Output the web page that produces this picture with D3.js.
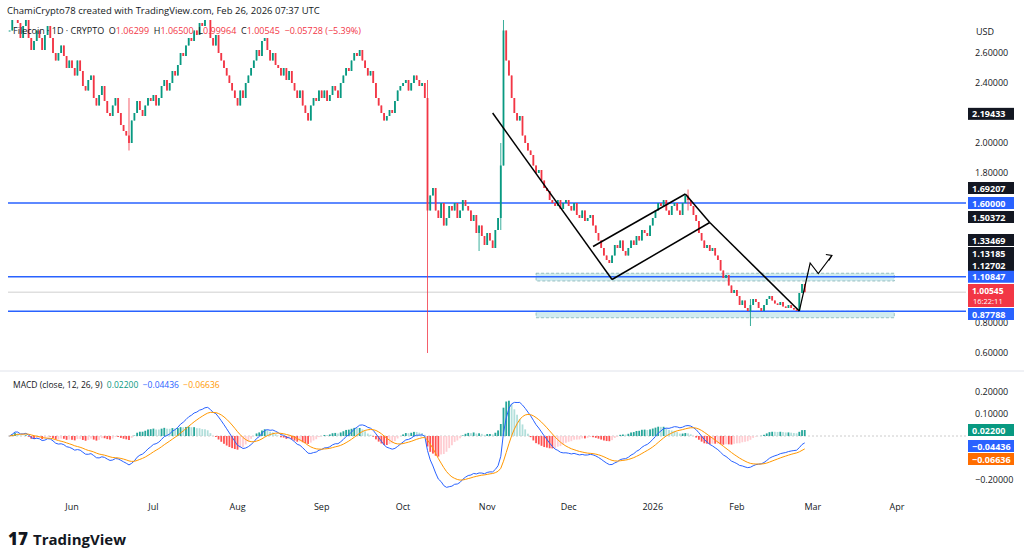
<!DOCTYPE html>
<html><head><meta charset="utf-8">
<script src="https://cdn.jsdelivr.net/npm/d3@7"></script>
<style>body{margin:0;background:#fff;font-family:"Open Sans",Roboto,sans-serif}</style>
</head><body><svg id="c" width="1024" height="560"></svg>
<script>
const startDate = "2025-05-09";
const closes = [
2.75,2.85,2.9,2.8,2.7,2.78,2.82,2.7,2.62,2.68,2.75,2.7,2.62,2.72,2.78,2.7,2.6,2.55,2.6,2.65,2.58,2.5,2.55,
2.5,2.45,2.55,2.48,2.38,2.35,2.42,2.45,2.3,2.25,2.32,2.38,2.28,2.2,2.18,2.25,2.3,2.2,2.12,2.08,2.05,2.0,2.15,2.2,2.28,2.22,2.18,2.25,2.3,2.28,
2.32,2.25,2.3,2.38,2.42,2.35,2.4,2.48,2.45,2.52,2.6,2.58,2.65,2.7,2.68,2.75,2.72,2.8,2.78,2.85,2.82,2.7,2.65,2.72,2.6,2.55,2.5,2.45,2.4,2.35,2.3,
2.25,2.35,2.3,2.4,2.45,2.5,2.55,2.62,2.58,2.68,2.7,2.62,2.55,2.6,2.52,2.5,2.45,2.5,2.42,2.48,2.4,2.35,2.3,2.35,2.25,2.2,2.15,2.25,2.3,2.28,2.35,
2.3,2.35,2.28,2.32,2.38,2.35,2.3,2.4,2.45,2.5,2.48,2.55,2.6,2.58,2.62,2.55,2.5,2.45,2.48,2.4,2.3,2.25,2.2,2.15,2.18,2.22,2.2,2.28,2.35,2.38,
2.4,2.42,2.35,2.4,2.45,2.42,2.38,2.4,2.3,1.55,1.65,1.7,1.55,1.5,1.6,1.45,1.5,1.58,1.55,1.6,1.5,1.55,1.62,1.58,1.55,1.48,1.52,1.4,1.45,1.38,1.32,
1.4,1.35,1.3,1.42,1.5,1.85,2.75,2.55,2.45,2.3,2.2,2.15,2.18,2.05,2.0,1.95,1.92,1.85,1.8,1.82,1.75,1.7,1.68,1.62,1.6,1.58,1.62,1.56,1.6,1.62,
1.58,1.55,1.6,1.52,1.5,1.55,1.48,1.5,1.52,1.45,1.4,1.35,1.3,1.25,1.22,1.2,1.25,1.32,1.3,1.35,1.28,1.25,1.3,1.35,1.32,1.38,1.35,1.42,1.4,1.38,1.45,
1.5,1.55,1.6,1.58,1.62,1.55,1.52,1.58,1.6,1.55,1.52,1.6,1.65,1.62,1.58,1.52,1.48,1.4,1.35,1.3,1.32,1.28,1.3,1.25,1.22,1.15,1.1,1.12,1.05,1.0,1.02,
0.98,0.92,0.95,0.9,0.88,0.92,0.96,0.94,0.9,0.88,0.92,0.96,0.98,0.95,0.93,0.92,0.94,0.91,0.9,0.92,0.9,0.89,0.88,1.0,1.06,1.00545];
const longWicks = [["2025-06-22",2.3,1.95],["2025-07-20",2.95,2.78],["2025-10-10",2.42,0.6],["2025-11-07",3.1,1.85],["2025-11-06",2.0,1.42],["2026-01-14",1.69,1.55],["2026-02-06",0.96,0.78],["2025-10-29",1.45,1.28]];
const priceTicks = [2.6,2.4,2.0,1.8,0.8,0.6];
const macdTicks = [0.2,0.1,-0.2];
const monthTicks = [["Jun","2025-06-01"],["Jul","2025-07-01"],["Aug","2025-08-01"],["Sep","2025-09-01"],["Oct","2025-10-01"],["Nov","2025-11-01"],["Dec","2025-12-01"],["2026","2026-01-01"],["Feb","2026-02-01"],["Mar","2026-03-01"],["Apr","2026-04-01"]];
const levels = [1.6,1.10847,0.87788];
const zones = [[1.13185,1.08,"2025-11-19","2026-03-31"],[0.87788,0.835,"2025-11-19","2026-03-31"]];
const tags = [[2.19433,"#131722"],[1.69207,"#131722"],[1.6,"#2962ff"],[1.50372,"#131722"],[1.33469,"#131722"],[1.13185,"#131722"],[1.12702,"#131722"],[1.10847,"#2962ff"],[0.87788,"#2962ff"]];
const drawLines = [
 [["2025-11-03",2.2],["2025-12-17",1.09]],
 [["2025-12-10",1.31],["2026-01-13",1.66]],
 [["2025-12-17",1.09],["2026-01-22",1.47]],
 [["2026-01-13",1.66],["2026-01-22",1.47]],
 [["2026-01-22",1.47],["2026-02-24",0.88]]];
const arrowPath = [["2026-02-24",0.88],["2026-02-28",1.2],["2026-03-03",1.13],["2026-03-08",1.25]];

const parse = d3.timeParse("%Y-%m-%d");
const t0 = parse(startDate);
const data = closes.map((c,i)=>{const d=d3.timeDay.offset(t0,i);const o=i?closes[i-1]:c;return {d,o,c,h:Math.max(o,c),l:Math.min(o,c)};});
longWicks.forEach(([ds,h,l])=>{const d=parse(ds);const k=data.find(e=>+e.d===+d);if(k){k.h=Math.max(k.h,h);k.l=Math.min(k.l,l);}});

const svg=d3.select("#c");
const L=8,R=966,T=20,B=368;
const x=d3.scaleTime().domain([parse("2025-06-01"),parse("2026-04-01")]).range([72,897]);
const y=d3.scaleLinear().domain([2.6,0.6]).range([53,353]);
const GREEN="#089981",RED="#f23645";
const cw=1.8;

svg.append("clipPath").attr("id","cp").append("rect").attr("x",L).attr("y",T).attr("width",R-L).attr("height",B-T);
const g=svg.append("g").attr("clip-path","url(#cp)");
zones.forEach(z=>{g.append("rect").attr("x",x(parse(z[2]))).attr("y",y(z[0])).attr("width",x(parse(z[3]))-x(parse(z[2]))).attr("height",y(z[1])-y(z[0])).attr("fill","#b2e0e6").attr("fill-opacity",0.6).attr("stroke","#7aa").attr("stroke-dasharray","3,2").attr("stroke-width",0.7);});
g.append("line").attr("x1",L).attr("x2",R).attr("y1",y(1.00545)).attr("y2",y(1.00545)).attr("stroke","#bbb").attr("stroke-width",0.7);
levels.forEach(v=>g.append("line").attr("x1",L).attr("x2",R).attr("y1",y(v)).attr("y2",y(v)).attr("stroke","#2962ff").attr("stroke-width",1.6));
const cg=g.append("g");
cg.selectAll("line.w").data(data).join("line").attr("x1",d=>x(d.d)).attr("x2",d=>x(d.d)).attr("y1",d=>y(d.h)).attr("y2",d=>y(d.l)).attr("stroke",d=>d.c>=d.o?GREEN:RED).attr("stroke-width",0.8);
cg.selectAll("rect").data(data).join("rect").attr("x",d=>x(d.d)-cw/2).attr("width",cw).attr("y",d=>y(Math.max(d.o,d.c))).attr("height",d=>Math.max(1,Math.abs(y(d.o)-y(d.c)))).attr("fill",d=>d.c>=d.o?GREEN:RED);
drawLines.forEach(s=>g.append("line").attr("x1",x(parse(s[0][0]))).attr("y1",y(s[0][1])).attr("x2",x(parse(s[1][0]))).attr("y2",y(s[1][1])).attr("stroke","#000").attr("stroke-width",1.5));
const ap=arrowPath.map(p=>[x(parse(p[0])),y(p[1])]);
g.append("path").attr("d",d3.line()(ap)).attr("fill","none").attr("stroke","#000").attr("stroke-width",1.2);
const [ax,ay]=ap[ap.length-1];
g.append("path").attr("d",`M${ax-6},${ay-1}L${ax},${ay}L${ax-3},${ay+5}`).attr("fill","none").attr("stroke","#000").attr("stroke-width",1.2);

svg.append("text").attr("x",976).attr("y",35).text("USD").attr("font-size",9).attr("fill","#131722");
priceTicks.forEach(v=>svg.append("text").attr("x",975).attr("y",y(v)+3).text(v.toFixed(5)).attr("font-size",9).attr("fill","#131722"));
function tag(v,col,yy){svg.append("rect").attr("x",968).attr("y",yy-6).attr("width",46).attr("height",12).attr("fill",col);svg.append("text").attr("x",972).attr("y",yy+3.5).text(v.toFixed(5)).attr("font-size",9).attr("font-weight","bold").attr("fill","#fff");}
const tagY = {1.33469:240,1.13185:253,1.12702:265,1.69207:188,1.50372:217,0.87788:314};
tags.forEach(t=>tag(t[0],t[1],tagY[t[0]]!==undefined?tagY[t[0]]:y(t[0])));
svg.append("rect").attr("x",968).attr("y",284).attr("width",46).attr("height",23).attr("fill",RED);
svg.append("text").attr("x",972).attr("y",294).text("1.00545").attr("font-size",8.5).attr("font-weight","bold").attr("fill","#fff");
svg.append("text").attr("x",973).attr("y",304).text("16:22:11").attr("font-size",7.5).attr("fill","#fff");

svg.append("text").attr("x",7).attr("y",14).text("ChamiCrypto78 created with TradingView.com, Feb 26, 2026 07:37 UTC").attr("font-size",9.5).attr("fill","#131722");
const hd=svg.append("text").attr("x",13).attr("y",34).attr("font-size",9).attr("xml:space","preserve");
[["Filecoin · 1D · CRYPTO  ","#131722"],["O","#131722"],["1.06299  ",RED],["H","#131722"],["1.06500  ",RED],["L","#131722"],["0.99964  ",RED],["C","#131722"],["1.00545  ",RED],["−0.05728 (−5.39%)",RED]].forEach(p=>hd.append("tspan").text(p[0]).attr("fill",p[1]));

const ema=(arr,n)=>{const k=2/(n+1);let e=arr[0];return arr.map(v=>e=v*k+e*(1-k));};
const e12=ema(closes,12),e26=ema(closes,26);
const macd=closes.map((c,i)=>e12[i]-e26[i]);
const sig=ema(macd,9);
const hist=macd.map((m,i)=>m-sig[i]);
const ym=d3.scaleLinear().domain([0.2,-0.2]).range([392,480]);
const mg=svg.append("g");
mg.append("line").attr("x1",L).attr("x2",R).attr("y1",ym(0)).attr("y2",ym(0)).attr("stroke","#ccc").attr("stroke-dasharray","2,2");
mg.selectAll("rect").data(data).join("rect").attr("x",d=>x(d.d)-cw/2).attr("width",cw)
 .attr("y",(d,i)=>Math.min(ym(0),ym(hist[i]))).attr("height",(d,i)=>Math.abs(ym(hist[i])-ym(0)))
 .attr("fill",(d,i)=>{const h=hist[i],p=i?hist[i-1]:h;return h>=0?(h>=p?"#26a69a":"#b2dfdb"):(h<p?"#ff5252":"#ffcdd2");});
mg.append("path").attr("d",d3.line().x((d,i)=>x(data[i].d)).y(d=>ym(d))(macd)).attr("fill","none").attr("stroke","#2962ff").attr("stroke-width",1);
mg.append("path").attr("d",d3.line().x((d,i)=>x(data[i].d)).y(d=>ym(d))(sig)).attr("fill","none").attr("stroke","#ff9800").attr("stroke-width",1);
const mt=svg.append("text").attr("x",13).attr("y",388).attr("font-size",8.5).attr("xml:space","preserve");
[["MACD (close, 12, 26, 9)  ","#131722"],["0.02200  ","#089981"],["−0.04436  ","#2962ff"],["−0.06636","#ff9800"]].forEach(p=>mt.append("tspan").text(p[0]).attr("fill",p[1]));
macdTicks.forEach(v=>svg.append("text").attr("x",975).attr("y",ym(v)+3).text((v<0?"−":"")+Math.abs(v).toFixed(5)).attr("font-size",9).attr("fill","#131722"));
[[0.022,"#089981",430],[-0.04436,"#2962ff",446],[-0.06636,"#ff6d00",459]].forEach(t=>{svg.append("rect").attr("x",968).attr("y",t[2]-6).attr("width",46).attr("height",12).attr("fill",t[1]);svg.append("text").attr("x",972).attr("y",t[2]+3.5).text((t[0]<0?"−":"")+Math.abs(t[0]).toFixed(5)).attr("font-size",9).attr("font-weight","bold").attr("fill","#fff");});
svg.append("line").attr("x1",0).attr("x2",1024).attr("y1",371).attr("y2",371).attr("stroke","#e0e3eb");
monthTicks.forEach(m=>svg.append("text").attr("x",x(parse(m[1]))).attr("y",510).attr("text-anchor","middle").text(m[0]).attr("font-size",9).attr("fill","#131722"));
svg.append("text").attr("x",8).attr("y",545).text("17").attr("font-size",17).attr("font-weight","900").attr("fill","#131722");
svg.append("text").attr("x",33).attr("y",545).text("TradingView").attr("font-size",15).attr("font-weight","bold").attr("fill","#131722");
</script></body></html>
